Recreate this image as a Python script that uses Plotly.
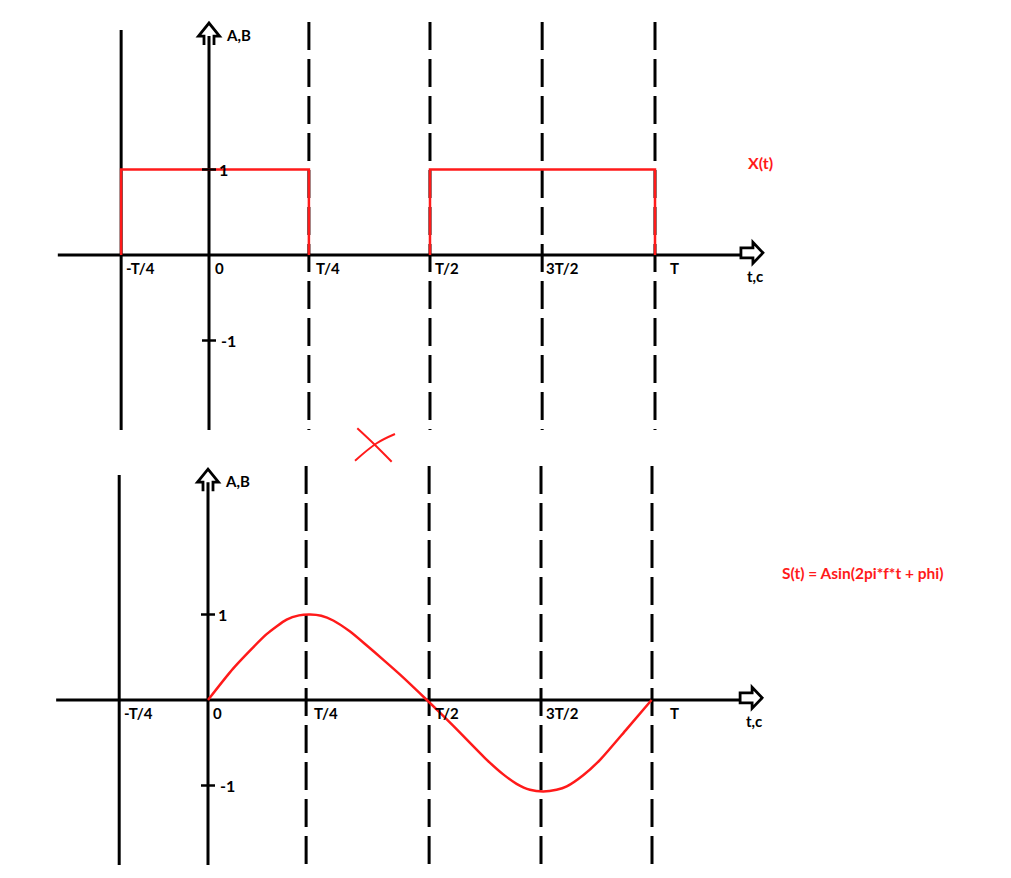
import plotly.graph_objects as go

# ---------------- data (units: x in periods T, y in amplitude) ----------------
tick_labels = ["-T/4", "0", "T/4", "T/2", "3T/2", "T"]
top_lines_x = [-0.197, 0.0, 0.224, 0.4955, 0.747, 1.0]   # drawn positions, upper panel
bot_lines_x = [-0.200, 0.0, 0.221, 0.498, 0.750, 1.0]    # drawn positions, lower panel
line_dashed = [False, False, True, True, True, True]

# X(t) square pulses (upper panel)
xt_t = [-0.197, -0.197, 0.224, 0.224, None, 0.4955, 0.4955, 1.0, 1.0]
xt_v = [0, 1, 1, 0, None, 0, 1, 1, 0]

# S(t) curve (lower panel)
st_t = [0.0, 0.057, 0.132, 0.177, 0.205, 0.230, 0.255, 0.282, 0.320, 0.357, 0.395, 0.432, 0.493,
        0.552, 0.628, 0.665, 0.695, 0.725, 0.755, 0.785, 0.808, 0.845, 0.883, 0.943, 0.999]
st_v = [0.0, 0.37, 0.77, 0.94, 0.99, 1.0, 0.985, 0.93, 0.80, 0.64, 0.47, 0.30, 0.0,
        -0.30, -0.70, -0.87, -0.98, -1.05, -1.07, -1.05, -1.01, -0.88, -0.70, -0.34, 0.0]

amp_ticks = [1, -1]
amp_labels = ["1", "-1"]

# hand-drawn red cross between the panels (upper-panel units)
cross_a_x = [0.3325, 0.3722, 0.4096]
cross_a_y = [-2.027, -2.222, -2.418]
cross_b_x = [0.3274, 0.3760, 0.4170]
cross_b_y = [-2.406, -2.202, -2.094]

# ---------------- geometry / style ----------------
PAGE_W, PAGE_H = 1011, 878
BODY = 8                                   # default page margin around the plot div
W, H = PAGE_W - 2 * BODY, PAGE_H - 2 * BODY
PX_PER_T_TOP, PX_PER_T_BOT = 446.0, 444.0
PX_PER_A = 85.5
X0_TOP, Y0_TOP = 209 - BODY, 255 - BODY    # pixel of origin, upper panel
X0_BOT, Y0_BOT = 208 - BODY, 700 - BODY    # pixel of origin, lower panel

BLACK = "#000000"
RED = "#ff1a1a"
FONT = "Lato"
LW = 3
DASH = "28px,9px"

fig = go.Figure()


def xr(x0, s):
    return [(-x0) / s, (W - x0) / s]


def yr(y0):
    return [(y0 - H) / PX_PER_A, y0 / PX_PER_A]


layout_axes = dict(visible=False, showgrid=False, zeroline=False, fixedrange=True)
fig.update_layout(
    width=W, height=H, autosize=False,
    margin=dict(l=0, r=0, t=0, b=0),
    paper_bgcolor="white", plot_bgcolor="white", showlegend=False,
    xaxis=dict(range=xr(X0_TOP, PX_PER_T_TOP), domain=[0, 1], **layout_axes),
    yaxis=dict(range=yr(Y0_TOP), domain=[0, 1], **layout_axes),
    xaxis2=dict(range=xr(X0_BOT, PX_PER_T_BOT), domain=[0, 1], overlaying="x", anchor="y2", **layout_axes),
    yaxis2=dict(range=yr(Y0_BOT), domain=[0, 1], overlaying="y", anchor="x2", **layout_axes),
)

panels = [
    dict(xa="x", ya="y", lines=top_lines_x, ylim=(2.725, -2.047), solid_top=2.632,
         axis_x=(-0.339, 1.193), tip_x=1.242, tip_y=2.713, label_shift=[3, 4, 5, 3, 2, 13]),
    dict(xa="x2", ya="y2", lines=bot_lines_x, ylim=(2.737, -1.930), solid_top=2.632,
         axis_x=(-0.342, 1.2005), tip_x=1.248, tip_y=2.70, label_shift=[3, 3, 6, 4, 3, 16]),
]

shapes = []
annotations = []
for p in panels:
    xa, ya = p["xa"], p["ya"]
    # vertical reference lines
    for i, (xv, dashed) in enumerate(zip(p["lines"], line_dashed)):
        if i == 1:
            continue  # amplitude axis drawn separately
        top = p["ylim"][0] if dashed else p["solid_top"]
        fig.add_trace(go.Scatter(x=[xv, xv], y=[top, p["ylim"][1]], mode="lines",
                                 xaxis=xa, yaxis=ya, hoverinfo="skip",
                                 line=dict(color=BLACK, width=LW, dash=DASH if dashed else "solid")))
    # horizontal time axis
    fig.add_trace(go.Scatter(x=list(p["axis_x"]), y=[0, 0], mode="lines", xaxis=xa, yaxis=ya,
                             hoverinfo="skip", line=dict(color=BLACK, width=LW)))
    # vertical amplitude axis (ends at arrow head base)
    y_axis_top = p["tip_y"] - 13 / PX_PER_A
    fig.add_trace(go.Scatter(x=[0, 0], y=[y_axis_top, p["ylim"][1]], mode="lines", xaxis=xa, yaxis=ya,
                             hoverinfo="skip", line=dict(color=BLACK, width=LW)))
    # right arrow (hollow)
    shapes.append(dict(type="path", xref=xa, yref=ya, xsizemode="pixel", ysizemode="pixel",
                       xanchor=p["tip_x"], yanchor=0.025,
                       path="M -22,-5 L -10,-5 L -10,-10.5 L 0,0 L -10,10.5 L -10,5 L -22,5 Z",
                       line=dict(color=BLACK, width=2.8), fillcolor="white", layer="above"))
    # up arrow (hollow)
    shapes.append(dict(type="path", xref=xa, yref=ya, xsizemode="pixel", ysizemode="pixel",
                       xanchor=0, yanchor=p["tip_y"],
                       path="M -5,-22 L -5,-13 L -10.5,-13 L 0,0 L 10.5,-13 L 5,-13 L 5,-22",
                       line=dict(color=BLACK, width=2.8), layer="above"))
    # amplitude ticks
    for tv, tl in zip(amp_ticks, amp_labels):
        shapes.append(dict(type="line", xref=xa, yref=ya, xsizemode="pixel", xanchor=0,
                           x0=-7, x1=7, y0=tv, y1=tv, line=dict(color=BLACK, width=2.5), layer="above"))
        annotations.append(dict(x=0, y=tv, xref=xa, yref=ya, text=tl, showarrow=False,
                                xanchor="left", yanchor="middle", xshift=8 if tl == "1" else 10,
                                font=dict(family=FONT, size=16, color=BLACK, weight="bold")))
    # time labels
    for xv, lab, sh in zip(p["lines"], tick_labels, p["label_shift"]):
        annotations.append(dict(x=xv, y=0, xref=xa, yref=ya, text=lab, showarrow=False,
                                xanchor="left", yanchor="middle", xshift=sh, yshift=-13,
                                font=dict(family=FONT, size=15, color=BLACK, weight="bold")))
    annotations.append(dict(x=p["tip_x"], y=0, xref=xa, yref=ya, text="t,c", showarrow=False,
                            xanchor="right", yanchor="middle", xshift=2, yshift=-21,
                            font=dict(family=FONT, size=15, color=BLACK, weight="bold")))
    annotations.append(dict(x=0, y=p["tip_y"], xref=xa, yref=ya, text="A,B", showarrow=False,
                            xanchor="left", yanchor="middle", xshift=15, yshift=-12,
                            font=dict(family=FONT, size=15, color=BLACK, weight="bold")))

# X(t)
fig.add_trace(go.Scatter(x=xt_t, y=xt_v, mode="lines", xaxis="x", yaxis="y", hoverinfo="skip",
                         line=dict(color=RED, width=2.5)))
# S(t)
fig.add_trace(go.Scatter(x=st_t, y=st_v, mode="lines", xaxis="x2", yaxis="y2", hoverinfo="skip",
                         line=dict(color=RED, width=2.5, shape="spline", smoothing=0.6)))
# cross
for cx, cy in [(cross_a_x, cross_a_y), (cross_b_x, cross_b_y)]:
    fig.add_trace(go.Scatter(x=cx, y=cy, mode="lines", xaxis="x", yaxis="y", hoverinfo="skip",
                             line=dict(color=RED, width=2, shape="spline")))

annotations.append(dict(x=1.205, y=1.08, xref="x", yref="y", text="X(t)", showarrow=False,
                        xanchor="left", yanchor="middle",
                        font=dict(family=FONT, size=16, color=RED, weight="bold")))
annotations.append(dict(x=1.288, y=1.48, xref="x2", yref="y2", text="S(t) = Asin(2pi*f*t + phi)",
                        showarrow=False, xanchor="left", yanchor="middle",
                        font=dict(family=FONT, size=15.5, color=RED, weight="bold")))

fig.update_layout(shapes=shapes, annotations=annotations)
fig.write_html("out.html")
